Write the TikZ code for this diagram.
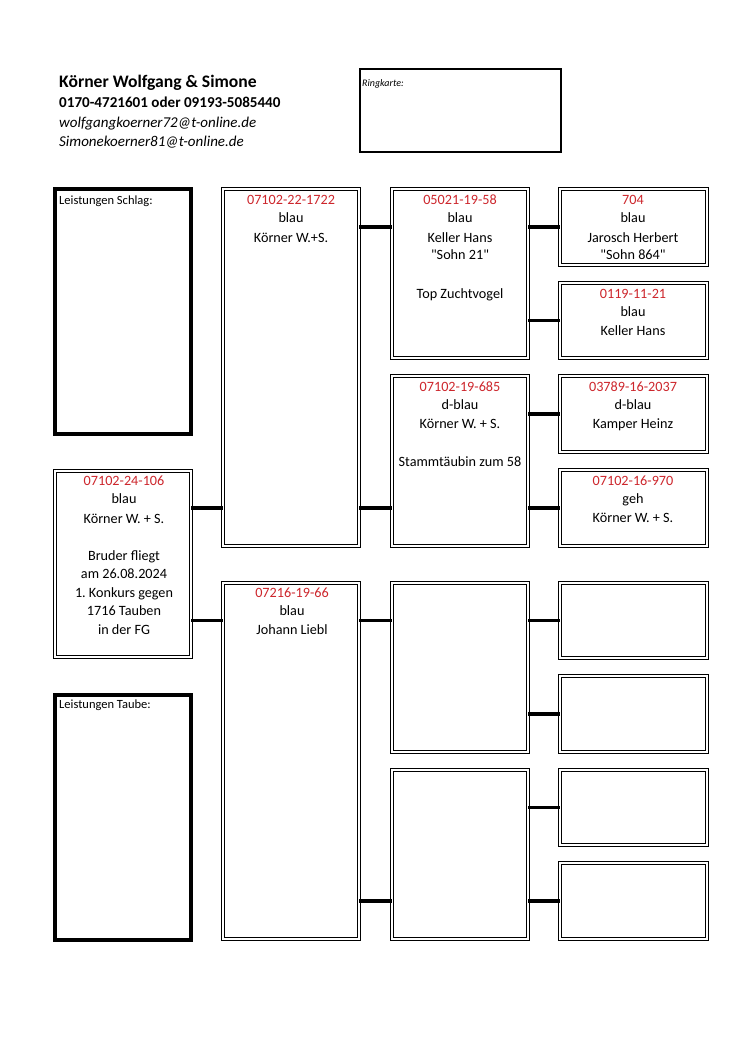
\documentclass[tikz,border=0pt]{standalone}
\usepackage{fontspec}
\setmainfont{Carlito}
\newfontfamily\qfont{Carlito}
\newcommand{\sq}{{\qfont"}}
\frenchspacing
\definecolor{ringred}{RGB}{205,38,44}
\tikzset{
  dbox/.style={draw, double, line width=0.9pt, double distance=1.7pt, inner sep=0pt, outer sep=0pt, anchor=north west},
  tbox/.style={draw, line width=3.4pt, inner sep=0pt, outer sep=0pt, anchor=north west},
  conn/.style={line width=3.2pt},
  txt/.style={font=\fontsize{14.2}{17}\selectfont, inner sep=0pt, anchor=base},
  rtxt/.style={txt, text=ringred},
  ltxt/.style={font=\fontsize{12.5}{14}\selectfont, inner sep=0pt, anchor=base west},
}
\begin{document}
\begin{tikzpicture}[x=1pt,y=-1pt]
\useasboundingbox[fill=white] (0,0) rectangle (750,1061);
% header
\node[font=\bfseries\fontsize{17.6}{20}\selectfont, inner sep=0pt, anchor=base west] (title) at (59,87) {Körner Wolfgang \& Simone};
\node[font=\bfseries\fontsize{15.1}{18}\selectfont, inner sep=0pt, anchor=base west] (phone) at (59,107) {0170-4721601 oder 09193-5085440};
\node[font=\itshape\fontsize{15}{18}\selectfont, inner sep=0pt, anchor=base west] (mail1) at (59,127) {wolfgangkoerner72@t-online.de};
\node[font=\itshape\fontsize{15}{18}\selectfont, inner sep=0pt, anchor=base west] (mail2) at (59,146) {Simonekoerner81@t-online.de};
\node[tbox, line width=2.6pt, minimum width=201pt, minimum height=83pt] (ring) at (360,69) {};
\node[font=\itshape\fontsize{10}{12}\selectfont, inner sep=0pt, anchor=base west] (ringt) at (362,86) {Ringkarte:};

% performance boxes
\node[tbox, minimum width=136pt, minimum height=245pt] (schlag) at (55,189) {};
\node[ltxt] (schlagt) at (59,204) {Leistungen Schlag:};
\node[tbox, minimum width=136pt, minimum height=245pt] (taube) at (55,695) {};
\node[ltxt] (taubet) at (59,708) {Leistungen Taube:};

% generation 1
\node[dbox, minimum width=136pt, minimum height=186pt] (g1) at (55,471) {};
% generation 2
\node[dbox, minimum width=136pt, minimum height=357pt] (g2a) at (223,189) {};
\node[dbox, minimum width=136pt, minimum height=356pt] (g2b) at (223,583) {};
% generation 3
\node[dbox, minimum width=136pt, minimum height=169pt] (g3a) at (392,189) {};
\node[dbox, minimum width=136pt, minimum height=170pt] (g3b) at (392,376) {};
\node[dbox, minimum width=136pt, minimum height=169pt] (g3c) at (392,583) {};
\node[dbox, minimum width=136pt, minimum height=169pt] (g3d) at (392,770) {};
% generation 4
\node[dbox, minimum width=147pt, minimum height=76pt] (g4a) at (560,189) {};
\node[dbox, minimum width=147pt, minimum height=75pt] (g4b) at (560,283) {};
\node[dbox, minimum width=147pt, minimum height=76pt] (g4c) at (560,376) {};
\node[dbox, minimum width=147pt, minimum height=76pt] (g4d) at (560,470) {};
\node[dbox, minimum width=147pt, minimum height=75pt] (g4e) at (560,583) {};
\node[dbox, minimum width=147pt, minimum height=76pt] (g4f) at (560,676) {};
\node[dbox, minimum width=147pt, minimum height=75pt] (g4g) at (560,770) {};
\node[dbox, minimum width=147pt, minimum height=76pt] (g4h) at (560,863) {};

% connectors
\draw[conn] (g1.east |- g4d.center) -- (g2a.west |- g4d.center);
\draw[conn] (g1.east |- g4e.center) -- (g2b.west |- g4e.center);
\draw[conn] (g2a.east |- g4a.center) -- (g3a.west |- g4a.center);
\draw[conn] (g2a.east |- g4d.center) -- (g3b.west |- g4d.center);
\draw[conn] (g2b.east |- g4e.center) -- (g3c.west |- g4e.center);
\draw[conn] (g2b.east |- g4h.center) -- (g3d.west |- g4h.center);
\draw[conn] (g3a.east |- g4a.center) -- (g4a.west);
\draw[conn] (g3a.east |- g4b.center) -- (g4b.west);
\draw[conn] (g3b.east |- g4c.center) -- (g4c.west);
\draw[conn] (g3b.east |- g4d.center) -- (g4d.west);
\draw[conn] (g3c.east |- g4e.center) -- (g4e.west);
\draw[conn] (g3c.east |- g4f.center) -- (g4f.west);
\draw[conn] (g3d.east |- g4g.center) -- (g4g.west);
\draw[conn] (g3d.east |- g4h.center) -- (g4h.west);

% texts gen1
\node[rtxt] (g1l1) at (124,485) {07102-24-106};
\node[txt] (g1l2) at (124,503) {blau};
\node[txt] (g1l3) at (124,523) {Körner W. + S.};
\node[txt] (g1l4) at (124,560) {Bruder fliegt};
\node[txt] (g1l5) at (124,578) {am 26.08.2024};
\node[txt] (g1l6) at (124,597) {1. Konkurs gegen};
\node[txt] (g1l7) at (124,615) {1716 Tauben};
\node[txt] (g1l8) at (124,634) {in der FG};
% gen2
\node[rtxt] (g2al1) at (291,204) {07102-22-1722};
\node[txt] (g2al2) at (291,222) {blau};
\node[txt] (g2al3) at (291,242) {Körner W.+S.};
\node[rtxt] (g2bl1) at (292,597) {07216-19-66};
\node[txt] (g2bl2) at (292,615) {blau};
\node[txt] (g2bl3) at (292,634) {Johann Liebl};
% gen3
\node[rtxt] (g3al1) at (460,204) {05021-19-58};
\node[txt] (g3al2) at (460,222) {blau};
\node[txt] (g3al3) at (460,242) {Keller Hans};
\node[txt] (g3al4) at (460,259) {\sq Sohn 21\sq};
\node[txt] (g3al5) at (460,298) {Top Zuchtvogel};
\node[rtxt] (g3bl1) at (460,391) {07102-19-685};
\node[txt] (g3bl2) at (460,409) {d-blau};
\node[txt] (g3bl3) at (460,428) {Körner W. + S.};
\node[txt] (g3bl4) at (460,466) {Stammtäubin zum 58};
% gen4
\node[rtxt] (g4al1) at (633,204) {704};
\node[txt] (g4al2) at (633,222) {blau};
\node[txt] (g4al3) at (633,242) {Jarosch Herbert};
\node[txt] (g4al4) at (633,259) {\sq Sohn 864\sq};
\node[rtxt] (g4bl1) at (633,298) {0119-11-21};
\node[txt] (g4bl2) at (633,316) {blau};
\node[txt] (g4bl3) at (633,335) {Keller Hans};
\node[rtxt] (g4cl1) at (633,391) {03789-16-2037};
\node[txt] (g4cl2) at (633,409) {d-blau};
\node[txt] (g4cl3) at (633,428) {Kamper Heinz};
\node[rtxt] (g4dl1) at (633,485) {07102-16-970};
\node[txt] (g4dl2) at (633,503) {geh};
\node[txt] (g4dl3) at (633,522) {Körner W. + S.};
\end{tikzpicture}
\end{document}
